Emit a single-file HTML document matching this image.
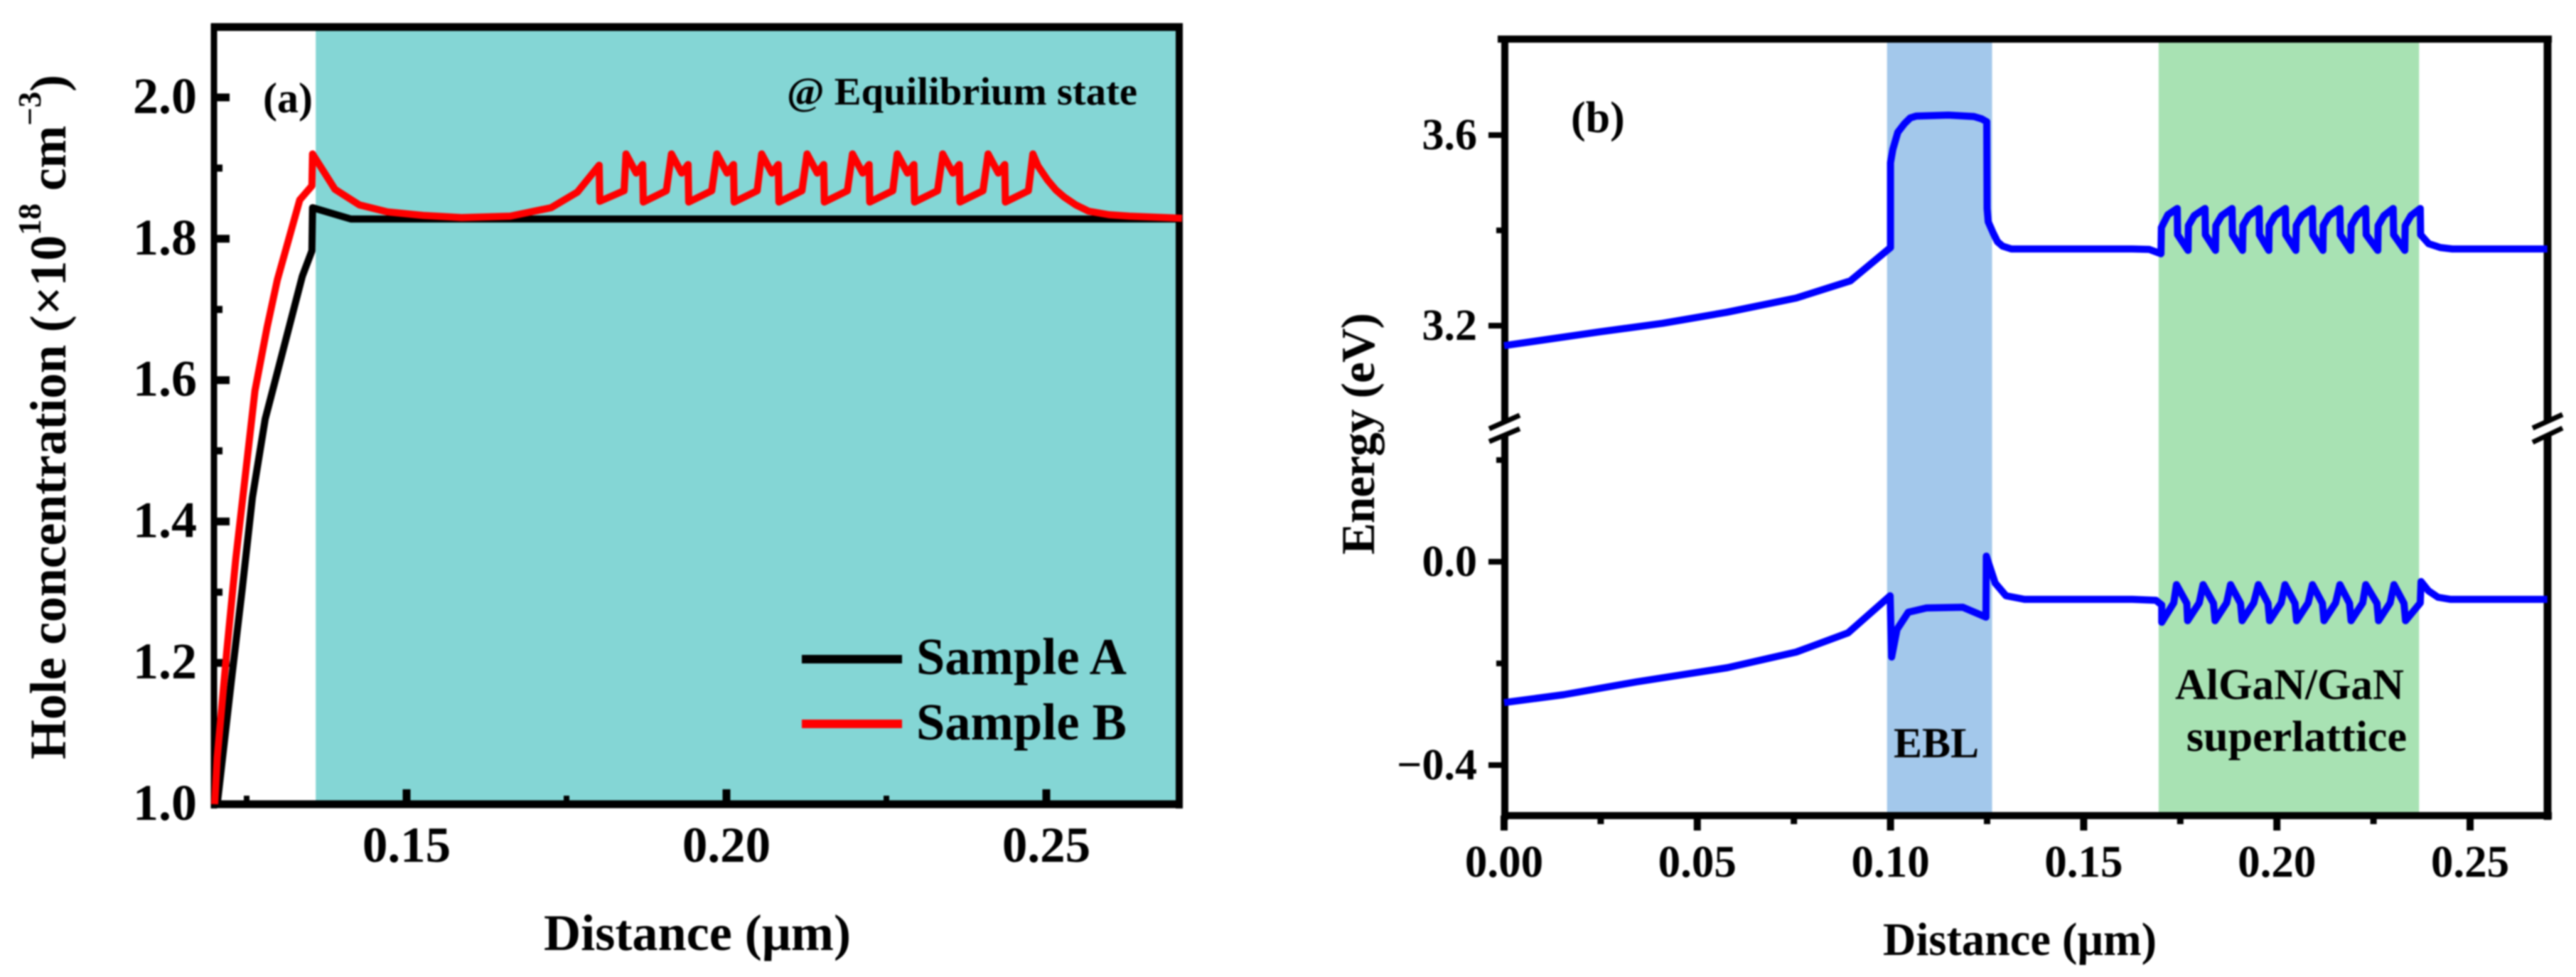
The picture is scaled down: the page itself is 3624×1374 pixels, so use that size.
<!DOCTYPE html>
<html lang="en">
<head>
<meta charset="utf-8">
<title>Hole concentration and energy band charts</title>
<style>
  html, body { margin: 0; padding: 0; background: #fff; }
  svg { display: block; filter: blur(1px); }
  text { font-family: "Liberation Serif", "Noto Serif CJK SC", serif; font-weight: bold; fill: #000; }
</style>
</head>
<body>
<svg id="figure" xmlns="http://www.w3.org/2000/svg" width="3624" height="1374" viewBox="0 0 3624 1374">
  <rect x="0" y="0" width="3624" height="1374" fill="#ffffff"/>

  <g id="panel-a">
    <g id="a-bands"></g>
    <g id="a-ticks"></g>
    <g id="a-lines"></g>
    <g stroke="#000" fill="none">
      <line x1="301" y1="33" x2="301" y2="1137" stroke-width="9"/>
      <line x1="297" y1="38" x2="1664" y2="38" stroke-width="11"/>
      <line x1="1659" y1="33" x2="1659" y2="1137" stroke-width="10"/>
      <line x1="297" y1="1131" x2="1664" y2="1131" stroke-width="11"/>
    </g>
    <g id="a-lines-top"></g>
    <g id="a-labels"></g>
    <text transform="translate(92,1068) rotate(-90)" font-size="72" textLength="963">Hole concentration (×10<tspan font-size="45" dy="-35">18</tspan><tspan dy="35"> cm</tspan><tspan font-size="45" dy="-35">−3</tspan><tspan dy="35">)</tspan></text>
    <text x="765" y="1336" font-size="72" textLength="432" lengthAdjust="spacingAndGlyphs">Distance (μm)</text>
    <text x="370" y="158" font-size="60">(a)</text>
    <text x="1107" y="147" font-size="55" textLength="493" lengthAdjust="spacingAndGlyphs">@ Equilibrium state</text>
    <g>
      <line x1="1128" y1="927" x2="1269" y2="927" stroke="#000" stroke-width="12"/>
      <text x="1289" y="948" font-size="73" textLength="296" lengthAdjust="spacingAndGlyphs">Sample A</text>
      <line x1="1128" y1="1018" x2="1269" y2="1018" stroke="#ff0000" stroke-width="12"/>
      <text x="1289" y="1040" font-size="73" textLength="296" lengthAdjust="spacingAndGlyphs">Sample B</text>
    </g>
  </g>

  <g id="panel-b">
    <g id="b-bands"></g>
    <g id="b-ticks"></g>
    <g stroke="#000" fill="none">
      <line x1="2117" y1="50" x2="2117" y2="1153" stroke-width="10"/>
      <line x1="2107" y1="55" x2="3590" y2="55" stroke-width="10"/>
      <line x1="3584" y1="50" x2="3584" y2="1153" stroke-width="11"/>
      <line x1="2112" y1="1147" x2="3590" y2="1147" stroke-width="10"/>
    </g>
    <g>
      <polygon points="2095,603 2138,583 2138,603 2095,620" fill="#fff"/>
      <line x1="2095" y1="603" x2="2138" y2="584" stroke="#000" stroke-width="7"/>
      <line x1="2095" y1="621" x2="2138" y2="603" stroke="#000" stroke-width="7"/>
    </g>
    <g>
      <polygon points="3563,602 3605,583 3605,602 3563,622" fill="#fff"/>
      <line x1="3563" y1="602" x2="3605" y2="583" stroke="#000" stroke-width="7"/>
      <line x1="3563" y1="622" x2="3605" y2="602" stroke="#000" stroke-width="7"/>
    </g>
    <g id="b-lines"></g>
    <g id="b-labels"></g>
    <text transform="translate(1933,780) rotate(-90)" font-size="67" textLength="340">Energy (eV)</text>
    <text x="2649" y="1343" font-size="66" textLength="385" lengthAdjust="spacingAndGlyphs">Distance (μm)</text>
    <text x="2210" y="186" font-size="62">(b)</text>
    <text x="2664" y="1065" font-size="60">EBL</text>
    <text x="3060" y="983" font-size="61">AlGaN/GaN</text>
    <text x="3076" y="1056" font-size="61" textLength="310" lengthAdjust="spacingAndGlyphs">superlattice</text>
  </g>
</svg>

<script>
// Panel (a) data
var aMajorXTicks = [0.15, 0.20, 0.25];
var aMajorXLabels = ["0.15", "0.20", "0.25"];
var aMinorXTicks = [0.125, 0.175, 0.225];
var aMajorYTicks = [1.0, 1.2, 1.4, 1.6, 1.8, 2.0];
var aMajorYLabels = ["1.0", "1.2", "1.4", "1.6", "1.8", "2.0"];
var aMinorYTicks = [1.1, 1.3, 1.5, 1.7, 1.9];
var aBandStart = [0.1358];
var aBandEnd = [0.2708];

var sampleADistance = [0.1204, 0.1226, 0.1243, 0.1259, 0.1279, 0.1337, 0.1352, 0.1353, 0.1413, 0.1600, 0.2000, 0.2400, 0.2708];
var sampleAConcentration = [1.0, 1.174, 1.304, 1.434, 1.545, 1.747, 1.783, 1.844, 1.828, 1.828, 1.828, 1.828, 1.828];

var sampleBDistance = [
  0.1200, 0.1204, 0.1219, 0.1233, 0.1244, 0.1263, 0.1282, 0.1298, 0.1333, 0.1352, 0.1353,
  0.1388, 0.1426, 0.1470, 0.1526, 0.1586, 0.1662, 0.1726, 0.1767, 0.1801, 0.1802, 0.1840,
  0.1843, 0.1859, 0.1869, 0.1870, 0.1906,
  0.1914, 0.1930, 0.1940, 0.1941, 0.1977,
  0.1985, 0.2001, 0.2011, 0.2012, 0.2048,
  0.2055, 0.2071, 0.2081, 0.2082, 0.2118,
  0.2126, 0.2142, 0.2152, 0.2153, 0.2189,
  0.2197, 0.2213, 0.2223, 0.2224, 0.2260,
  0.2267, 0.2283, 0.2293, 0.2294, 0.2330,
  0.2338, 0.2354, 0.2364, 0.2365, 0.2401,
  0.2409, 0.2425, 0.2435, 0.2436, 0.2472,
  0.2479, 0.2487, 0.2502, 0.2515, 0.2528, 0.2546, 0.2566, 0.2598, 0.2630, 0.2712
];
var sampleBConcentration = [
  1.0, 1.066, 1.217, 1.347, 1.434, 1.585, 1.675, 1.742, 1.855, 1.875, 1.92,
  1.87, 1.848, 1.838, 1.833, 1.83, 1.832, 1.844, 1.866, 1.904, 1.853, 1.868,
  1.92, 1.893, 1.905, 1.852, 1.868,
  1.92, 1.893, 1.905, 1.852, 1.868,
  1.92, 1.893, 1.905, 1.852, 1.868,
  1.92, 1.893, 1.905, 1.852, 1.868,
  1.92, 1.893, 1.905, 1.852, 1.868,
  1.92, 1.893, 1.905, 1.852, 1.868,
  1.92, 1.893, 1.905, 1.852, 1.868,
  1.92, 1.893, 1.905, 1.852, 1.868,
  1.92, 1.893, 1.905, 1.852, 1.868,
  1.92, 1.903, 1.883, 1.869, 1.859, 1.848, 1.839, 1.834, 1.832, 1.829
];

// Panel (b) data
var bMajorXTicks = [0.00, 0.05, 0.10, 0.15, 0.20, 0.25];
var bMajorXLabels = ["0.00", "0.05", "0.10", "0.15", "0.20", "0.25"];
var bMinorXTicks = [0.025, 0.075, 0.125, 0.175, 0.225];
var bMajorYTicks = [3.6, 3.2, 0.0, -0.4];
var bMajorYLabels = ["3.6", "3.2", "0.0", "−0.4"];
var bMinorYTicks = [3.4, 0.2, -0.2];
var eblBand = [0.0991, 0.1263];
var superlatticeBand = [0.1694, 0.2368];

var conductionDistance = [
  0.0, 0.0247, 0.041, 0.0576, 0.0756, 0.0896, 0.1, 0.1, 0.1006, 0.1019, 0.1036, 0.1051, 0.1067, 0.115, 0.1216, 0.1236, 0.1249, 0.125,
  0.1253, 0.1266, 0.1277, 0.129, 0.1313, 0.134, 0.1534, 0.1626, 0.167,
  0.1700, 0.1701, 0.1718, 0.1742, 0.1743,
  0.1770, 0.1771, 0.1786, 0.1814, 0.1815,
  0.1841, 0.1842, 0.1857, 0.1884, 0.1885,
  0.1911, 0.1912, 0.1927, 0.1954, 0.1955,
  0.1979, 0.1980, 0.1995, 0.2022, 0.2023,
  0.2049, 0.2050, 0.2065, 0.2092, 0.2093,
  0.2119, 0.2120, 0.2135, 0.2163, 0.2164,
  0.2191, 0.2192, 0.2207, 0.2230, 0.2231,
  0.2261, 0.2262, 0.2277, 0.2301, 0.2302,
  0.2331, 0.2332, 0.2347, 0.2371, 0.2372,
  0.2393, 0.2423, 0.2454, 0.27
];
var conductionEnergy = [
  3.158, 3.187, 3.205, 3.228, 3.258, 3.294, 3.364, 3.542, 3.57, 3.606, 3.624, 3.636, 3.64, 3.642, 3.639, 3.634, 3.628, 3.446,
  3.418, 3.394, 3.376, 3.367, 3.361, 3.361, 3.361, 3.361, 3.36,
  3.351, 3.406, 3.433, 3.446, 3.391,
  3.358, 3.41, 3.431, 3.446, 3.391,
  3.358, 3.41, 3.431, 3.446, 3.391,
  3.358, 3.41, 3.431, 3.446, 3.391,
  3.358, 3.41, 3.431, 3.446, 3.391,
  3.358, 3.41, 3.431, 3.446, 3.391,
  3.358, 3.41, 3.431, 3.446, 3.391,
  3.358, 3.41, 3.431, 3.446, 3.391,
  3.358, 3.41, 3.431, 3.446, 3.391,
  3.358, 3.41, 3.431, 3.446, 3.391,
  3.372, 3.364, 3.361, 3.361
];

var valenceDistance = [
  0.0, 0.0154, 0.0342, 0.0578, 0.0756, 0.089, 0.0999, 0.1003, 0.1017, 0.1046, 0.1093, 0.1187, 0.1247, 0.1248,
  0.1271, 0.1299, 0.1347, 0.1626, 0.1687, 0.1702, 0.1702,
  0.1733, 0.1740, 0.1767,
  0.1769, 0.1799, 0.1809, 0.1836,
  0.1840, 0.1870, 0.1880, 0.1906,
  0.1910, 0.1940, 0.1952, 0.1977,
  0.1981, 0.2011, 0.2021, 0.2047,
  0.2051, 0.2081, 0.2092, 0.2118,
  0.2122, 0.2152, 0.2163, 0.2188,
  0.2192, 0.2222, 0.2230, 0.2259,
  0.2263, 0.2293, 0.2303, 0.2329,
  0.2333, 0.2371, 0.2373, 0.2392, 0.2417, 0.245, 0.27
];
var valenceEnergy = [
  -0.277, -0.2615, -0.2364, -0.2084, -0.1776, -0.14, -0.067, -0.1874, -0.133, -0.0993, -0.0909, -0.0895, -0.109, 0.011,
  -0.042, -0.067, -0.074, -0.074, -0.076, -0.085, -0.119,
  -0.081, -0.045, -0.082,
  -0.116, -0.081, -0.045, -0.082,
  -0.116, -0.081, -0.045, -0.082,
  -0.116, -0.081, -0.045, -0.082,
  -0.116, -0.081, -0.045, -0.082,
  -0.116, -0.081, -0.045, -0.082,
  -0.116, -0.081, -0.045, -0.082,
  -0.116, -0.081, -0.045, -0.082,
  -0.116, -0.081, -0.045, -0.082,
  -0.116, -0.081, -0.039, -0.057, -0.07, -0.074, -0.074
];

// Axis functions
function ax(d) { return 302 + (d - 0.12) * 9000; }
function ay(v) { return 1131 - (v - 1) * 994; }
function bx(d) { return 2116 + d * 5436; }
function by(v) { return v > 2 ? 190 + (3.6 - v) * 670 : 790 - v * 715; }

var NS = "http://www.w3.org/2000/svg";
function line(parent, x1, y1, x2, y2, w) {
  var el = document.createElementNS(NS, "line");
  el.setAttribute("x1", x1);
  el.setAttribute("y1", y1);
  el.setAttribute("x2", x2);
  el.setAttribute("y2", y2);
  el.setAttribute("stroke", "#000");
  el.setAttribute("stroke-width", w);
  parent.appendChild(el);
  return el;
}
function label(parent, str, x, y, size, anchor) {
  var el = document.createElementNS(NS, "text");
  el.setAttribute("x", x);
  el.setAttribute("y", y);
  el.setAttribute("font-size", size);
  el.setAttribute("text-anchor", anchor);
  el.textContent = str;
  parent.appendChild(el);
  return el;
}
function band(parent, x1, x2, y1, y2, fill) {
  var el = document.createElementNS(NS, "rect");
  el.setAttribute("x", x1);
  el.setAttribute("y", y1);
  el.setAttribute("width", x2 - x1);
  el.setAttribute("height", y2 - y1);
  el.setAttribute("fill", fill);
  parent.appendChild(el);
  return el;
}
function curve(parent, xs, ys, fx, fy, color, w) {
  var pts = [];
  for (var i = 0; i < xs.length; i++) {
    pts.push(fx(xs[i]).toFixed(1) + "," + fy(ys[i]).toFixed(1));
  }
  var el = document.createElementNS(NS, "polyline");
  el.setAttribute("points", pts.join(" "));
  el.setAttribute("fill", "none");
  el.setAttribute("stroke", color);
  el.setAttribute("stroke-width", w);
  el.setAttribute("stroke-linejoin", "round");
  parent.appendChild(el);
  return el;
}

var aBands = document.getElementById("a-bands");
var aTicks = document.getElementById("a-ticks");
var aLines = document.getElementById("a-lines");
var aLinesTop = document.getElementById("a-lines-top");
var aLabels = document.getElementById("a-labels");
var bBands = document.getElementById("b-bands");
var bTicks = document.getElementById("b-ticks");
var bLines = document.getElementById("b-lines");
var bLabels = document.getElementById("b-labels");
var i, el;

// Panel (a)
el = band(aBands, ax(aBandStart[0]), ax(aBandEnd[0]), ay(2.1), 1131, "#84d6d5");



for (i = 0; i < aMajorXTicks.length; i++) {
  el = line(aTicks, ax(aMajorXTicks[i]), 1131, ax(aMajorXTicks[i]), 1110, 11);
  
  
  el = label(aLabels, aMajorXLabels[i], ax(aMajorXTicks[i]), 1212, 71, "middle");
  
  
}
for (i = 0; i < aMinorXTicks.length; i++) {
  el = line(aTicks, ax(aMinorXTicks[i]), 1131, ax(aMinorXTicks[i]), 1119, 8);
  
  
}
for (i = 0; i < aMajorYTicks.length; i++) {
  el = line(aTicks, 301, ay(aMajorYTicks[i]), 323, ay(aMajorYTicks[i]), 11);
  
  
  el = label(aLabels, aMajorYLabels[i], 277, ay(aMajorYTicks[i]) + 22, 72, "end");
  
  
}
for (i = 0; i < aMinorYTicks.length; i++) {
  el = line(aTicks, 301, ay(aMinorYTicks[i]), 313, ay(aMinorYTicks[i]), 10);
  
  
}

el = curve(aLines, sampleADistance, sampleAConcentration, ax, ay, "#000000", 10);


el = curve(aLinesTop, sampleBDistance, sampleBConcentration, ax, ay, "#ff0000", 10);



// Panel (b)
el = band(bBands, bx(eblBand[0]), bx(eblBand[1]), 55, 1147, "#a3c8eb");


el = band(bBands, bx(superlatticeBand[0]), bx(superlatticeBand[1]), 55, 1147, "#a8e2b3");



for (i = 0; i < bMajorXTicks.length; i++) {
  el = line(bTicks, bx(bMajorXTicks[i]), 1147, bx(bMajorXTicks[i]), 1168, 10);
  
  
  el = label(bLabels, bMajorXLabels[i], bx(bMajorXTicks[i]), 1233, 63, "middle");
  
  
}
for (i = 0; i < bMinorXTicks.length; i++) {
  el = line(bTicks, bx(bMinorXTicks[i]), 1147, bx(bMinorXTicks[i]), 1159, 9);
  
  
}
for (i = 0; i < bMajorYTicks.length; i++) {
  el = line(bTicks, 2117, by(bMajorYTicks[i]), 2094, by(bMajorYTicks[i]), 8);
  
  
  el = label(bLabels, bMajorYLabels[i], 2078, by(bMajorYTicks[i]) + 20, 62, "end");
  
  
}
for (i = 0; i < bMinorYTicks.length; i++) {
  el = line(bTicks, 2117, by(bMinorYTicks[i]), 2105, by(bMinorYTicks[i]), 8);
  
  
}

el = curve(bLines, conductionDistance, conductionEnergy, bx, by, "#0000ff", 10);


el = curve(bLines, valenceDistance, valenceEnergy, bx, by, "#0000ff", 10);


</script>
</body>
</html>
